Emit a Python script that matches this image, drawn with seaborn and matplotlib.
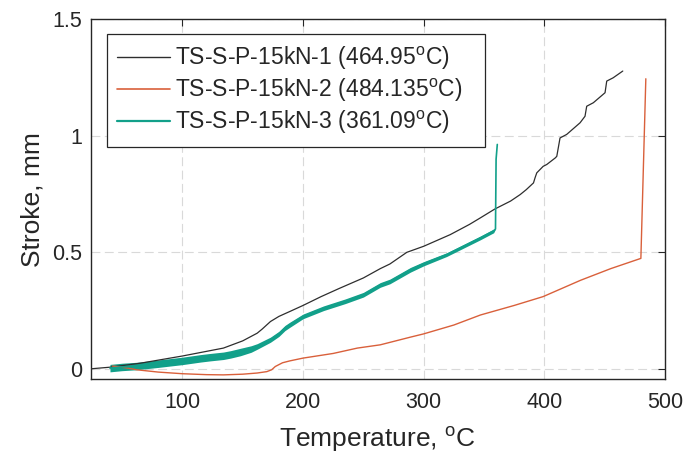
import numpy as np
import pandas as pd
import matplotlib
matplotlib.use("Agg")
import matplotlib.pyplot as plt
import seaborn as sns
from matplotlib.lines import Line2D

# ---------------- data ----------------
t1 = [24, 40, 65, 100, 134, 150, 162, 166, 173, 180, 189, 200, 215, 230, 250,
      264, 272, 286, 300, 322, 338, 347, 359, 372, 380, 385, 391, 392.3, 393.7,
      399, 402, 409, 410.3, 413, 418.5, 429.6, 433.7, 435.1, 440.6, 450.3, 451.7,
      457, 465]
s1 = [0.0, 0.007, 0.024, 0.055, 0.089, 0.12, 0.153, 0.17, 0.203, 0.225, 0.246,
      0.272, 0.31, 0.345, 0.39, 0.43, 0.45, 0.50, 0.526, 0.576, 0.62, 0.648, 0.686,
      0.72, 0.748, 0.769, 0.798, 0.82, 0.841, 0.869, 0.877, 0.905, 0.912, 0.991,
      1.006, 1.056, 1.084, 1.127, 1.142, 1.185, 1.235, 1.249, 1.278]

t2 = [42, 55, 62, 80, 100, 120, 134, 150, 162, 170, 174, 177, 183, 189, 200,
      225, 245, 264, 289, 300, 325, 347, 375, 399, 430, 455, 480, 484.1]
s2 = [0.012, 0.003, -0.004, -0.014, -0.021, -0.025, -0.026, -0.023, -0.018,
      -0.012, -0.004, 0.010, 0.026, 0.034, 0.046, 0.066, 0.089, 0.103, 0.136,
      0.150, 0.188, 0.231, 0.272, 0.31, 0.38, 0.43, 0.474, 1.245]

t3 = [40, 50, 62, 80, 100, 115, 123, 134, 140, 148, 157, 162, 173, 180, 185,
      189, 200, 217, 235, 250, 264, 272, 289, 300, 319, 333, 347, 358, 359.5,
      360, 361]
s3_mid = [0.003, 0.008, 0.012, 0.022, 0.034, 0.045, 0.05, 0.056, 0.062, 0.072,
          0.085, 0.096, 0.125, 0.15, 0.175, 0.189, 0.225, 0.26, 0.29, 0.318,
          0.36, 0.375, 0.425, 0.451, 0.49, 0.526, 0.562, 0.592, 0.60, 0.90, 0.963]
s3_half = [0.016, 0.016, 0.016, 0.016, 0.016, 0.016, 0.016, 0.016, 0.016, 0.016,
           0.014, 0.012, 0.011, 0.011, 0.011, 0.011, 0.010, 0.010, 0.010, 0.010,
           0.010, 0.010, 0.010, 0.009, 0.008, 0.008, 0.008, 0.008, 0.0, 0.0, 0.0]

labels = ["TS-S-P-15kN-1 (464.95$^{\\mathrm{o}}$C)",
          "TS-S-P-15kN-2 (484.135$^{\\mathrm{o}}$C)",
          "TS-S-P-15kN-3 (361.09$^{\\mathrm{o}}$C)"]
xticks = [100, 200, 300, 400, 500]
xticklabels = ["100", "200", "300", "400", "500"]
yticks = [0, 0.5, 1, 1.5]
yticklabels = ["0", "0.5", "1", "1.5"]

# ---------------- style ----------------
sns.set_theme(style="white")
plt.rcParams["font.family"] = ["Liberation Sans", "DejaVu Sans"]
plt.rcParams["mathtext.fontset"] = "custom"
plt.rcParams["mathtext.rm"] = "Liberation Sans"
plt.rcParams["mathtext.it"] = "Liberation Sans:italic"
plt.rcParams["mathtext.bf"] = "Liberation Sans:bold"

c_black = "#2e2e2e"
c_red = "#d9603b"
c_green = "#12a08a"
txt = "#262626"

fig = plt.figure(figsize=(6.86, 4.57), dpi=100)
ax = fig.add_axes([0.1322, 0.170, 0.8372, 0.7877])

df1 = pd.DataFrame({"T": t1, "S": s1})
df2 = pd.DataFrame({"T": t2, "S": s2})
mid = np.array(s3_mid)
half = np.array(s3_half)
df3 = pd.DataFrame({"T": np.concatenate([t3, t3]),
                    "S": np.concatenate([mid - half, mid + half])})

sns.lineplot(data=df1, x="T", y="S", ax=ax, color=c_black, lw=0.9,
             estimator=None, sort=False, zorder=3)
sns.lineplot(data=df2, x="T", y="S", ax=ax, color=c_red, lw=1.0,
             estimator=None, sort=False, zorder=3)
sns.lineplot(data=df3, x="T", y="S", ax=ax, color=c_green, lw=1.2,
             estimator="mean", errorbar=("pi", 100),
             err_kws={"alpha": 1.0, "linewidth": 0}, zorder=4)

ax.set_xlim(24, 500)
ax.set_ylim(-0.045, 1.5)
ax.set_xticks(xticks)
ax.set_xticklabels(xticklabels)
ax.set_yticks(yticks)
ax.set_yticklabels(yticklabels)

ax.grid(True, color="#d9d9d9", lw=0.8, linestyle=(0, (8, 4)))
ax.set_axisbelow(True)
for sp in ax.spines.values():
    sp.set_visible(True)
    sp.set_color(txt)
    sp.set_linewidth(1.0)

ax.tick_params(axis="both", direction="in", length=5, width=0.8, colors=txt,
               labelsize=15.5, top=True, right=True)
ax.tick_params(axis="x", pad=9)
ax.tick_params(axis="y", pad=6)

ax.set_xlabel("Temperature, $^{\\mathrm{o}}$C", fontsize=19, color=txt, labelpad=9)
ax.set_ylabel("Stroke, mm", fontsize=19, color=txt, labelpad=6)

handles = [Line2D([], [], color=c_black, lw=1.0),
           Line2D([], [], color=c_red, lw=1.2),
           Line2D([], [], color=c_green, lw=1.6)]
leg = ax.legend(handles, labels, loc="upper left",
                bbox_to_anchor=(0.0279, 0.5, 0.6587, 0.458), mode="expand",
                borderaxespad=0, fontsize=16.5, frameon=True, fancybox=False,
                edgecolor=txt, framealpha=1, handlelength=2.3, handletextpad=0.25,
                borderpad=0.45, labelspacing=0.22)
leg.get_frame().set_linewidth(0.9)
for t in leg.get_texts():
    t.set_color(txt)

fig.savefig("out.png", dpi=100)
